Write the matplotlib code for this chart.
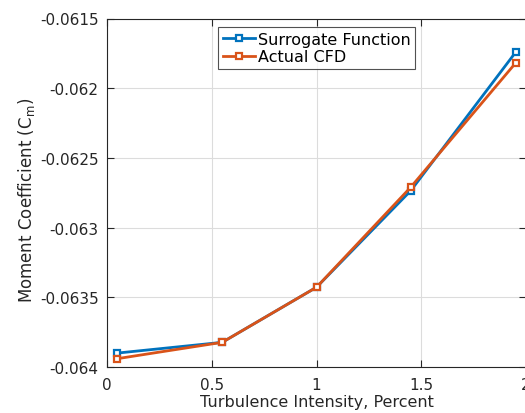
import matplotlib
matplotlib.use("Agg")
import matplotlib.pyplot as plt

x = [0.05, 0.55, 1.0, 1.45, 1.95]
surrogate = [-0.06390, -0.063823, -0.063428, -0.062735, -0.061743]
actual_cfd = [-0.063940, -0.063823, -0.063428, -0.062710, -0.061820]
xticks = [0, 0.5, 1, 1.5, 2]
yticks = [-0.064, -0.0635, -0.063, -0.0625, -0.062, -0.0615]
ytick_labels = ["-0.064", "-0.0635", "-0.063", "-0.0625", "-0.062", "-0.0615"]

plt.rcParams['font.family'] = ['DejaVu Sans']
fig = plt.figure(figsize=(5.25, 4.14), dpi=100)
W, H = 525, 414
l, r, t, b = 107, 526, 19.5, 368
ax = fig.add_axes([l / W, 1 - b / H, (r - l) / W, (b - t) / H])

blue = '#0072BD'
orange = '#D95319'
ax.plot(x, surrogate, '-s', color=blue, lw=2, ms=5, mfc='white', mec=blue, mew=1.6,
        label='Surrogate Function', zorder=3)
ax.plot(x, actual_cfd, '-s', color=orange, lw=2, ms=5, mfc='white', mec=orange, mew=1.6,
        label='Actual CFD', zorder=4)

ax.set_xlim(0, 2)
ax.set_ylim(-0.064, -0.0615)
ax.set_xticks(xticks)
ax.set_xticklabels(['0', '0.5', '1', '1.5', '2'])
ax.set_yticks(yticks)
ax.set_yticklabels(ytick_labels)
ax.grid(True, color='#dcdcdc', lw=0.8)
ax.set_axisbelow(True)
axc = '#262626'
for s in ax.spines.values():
    s.set_color(axc)
    s.set_linewidth(0.8)
ax.tick_params(direction='in', top=True, right=True, colors=axc, labelsize=11, length=5)
ax.tick_params(axis='x', pad=7)
ax.tick_params(axis='y', pad=6)
ax.set_xlabel('Turbulence Intensity, Percent', fontsize=11.5, color=axc, labelpad=2)
ax.set_ylabel('Moment Coefficient (C$_\\mathregular{m}$)', fontsize=12, color=axc, labelpad=2)
ax.yaxis.label.set_y(0.48)

leg = ax.legend(loc='upper left', bbox_to_anchor=((218 - l) / (r - l), 1 - (28 - t) / (b - t)),
                fontsize=11.5, frameon=True, fancybox=False, edgecolor=axc,
                handlelength=2.0, handletextpad=0.2, borderpad=0.3, labelspacing=0.15,
                borderaxespad=0)
leg.get_frame().set_linewidth(0.8)

fig.savefig('out.png', dpi=100)
